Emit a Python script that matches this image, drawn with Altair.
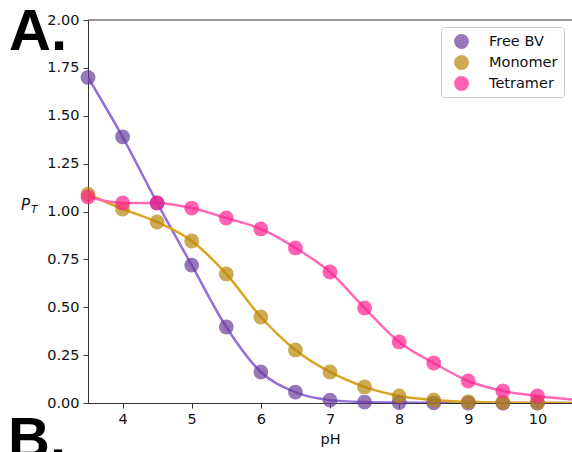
import altair as alt
import pandas as pd

ph = [3.5, 4.0, 4.5, 5.0, 5.5, 6.0, 6.5, 7.0, 7.5, 8.0, 8.5, 9.0, 9.5, 10.0]
free_bv = [1.70, 1.39, 1.045, 0.72, 0.397, 0.162, 0.057, 0.015, 0.005, 0.002, 0.001, 0.0, 0.0, 0.0]
monomer = [1.09, 1.013, 0.945, 0.846, 0.674, 0.449, 0.277, 0.162, 0.084, 0.037, 0.016, 0.006, 0.002, 0.001]
tetramer = [1.076, 1.045, 1.045, 1.018, 0.966, 0.909, 0.81, 0.684, 0.496, 0.319, 0.209, 0.115, 0.063, 0.037]

# curve end values at pH 10.5
curve_end_ph = 10.5
curve_end = {"Free BV": 0.0, "Monomer": 0.0, "Tetramer": 0.018}

series = ["Free BV", "Monomer", "Tetramer"]
point_colors = ["#6a3d9a", "#b8860b", "#ff1f8e"]
line_colors = ["#9370db", "#daa520", "#ff69b4"]

rows = []
for name, vals in zip(series, [free_bv, monomer, tetramer]):
    for x, y in zip(ph, vals):
        rows.append({"pH": x, "PT": y, "series": name})
pts = pd.DataFrame(rows)

lrows = list(rows)
for name in series:
    lrows.append({"pH": curve_end_ph, "PT": curve_end[name], "series": name})
lines_df = pd.DataFrame(lrows)

FS = 14.5
xscale = alt.Scale(domain=[3.5, 10.5], nice=False, zero=False)
yscale = alt.Scale(domain=[0, 2.0], nice=False)

xaxis = alt.Axis(values=[4, 5, 6, 7, 8, 9, 10], format="d", title="pH", grid=False,
                 labelFontSize=FS, titleFontSize=FS, titleFontWeight="normal",
                 tickSize=5, labelPadding=4, titlePadding=7, domainColor="#333", tickColor="#333",
                 labelColor="#111", titleColor="#111", labelFont="DejaVu Sans", titleFont="DejaVu Sans")
yaxis = alt.Axis(values=[0, 0.25, 0.5, 0.75, 1.0, 1.25, 1.5, 1.75, 2.0], format=".2f", title=None, grid=False,
                 labelFontSize=FS, tickSize=5, labelPadding=4, domainColor="#333", tickColor="#333",
                 labelColor="#111", labelFont="DejaVu Sans")

lines = alt.Chart(lines_df).mark_line(interpolate="monotone", strokeWidth=2.5, clip=True).encode(
    x=alt.X("pH:Q", scale=xscale, axis=xaxis),
    y=alt.Y("PT:Q", scale=yscale, axis=yaxis),
    stroke=alt.Stroke("series:N", scale=alt.Scale(domain=series, range=line_colors), legend=None),
    order=alt.Order("pH:Q"),
)

points = alt.Chart(pts).mark_point(filled=True, size=220, opacity=0.7, shape="circle").encode(
    x=alt.X("pH:Q", scale=xscale),
    y=alt.Y("PT:Q", scale=yscale),
    color=alt.Color("series:N", scale=alt.Scale(domain=series, range=point_colors),
                    legend=alt.Legend(title=None, orient="none", legendX=353, legendY=7,
                                      symbolSize=220, symbolOpacity=0.7, symbolType="circle",
                                      labelFontSize=FS, labelFont="DejaVu Sans", labelColor="#111",
                                      strokeColor="#cccccc", fillColor="white", cornerRadius=3,
                                      padding=6, rowPadding=5, labelOffset=19, symbolOffset=6)),
)

top_rule = alt.Chart(pd.DataFrame({"y": [2.0]})).mark_rule(color="#333", strokeWidth=1).encode(
    y=alt.Y("y:Q", scale=yscale), x=alt.value(0), x2=alt.value(484)
)

labels = pd.DataFrame({"t": ["A."]})
lab_a = alt.Chart(labels).mark_text(text="A.", font="Liberation Sans", fontWeight="bold", fontSize=58,
                                     align="left", baseline="alphabetic", color="black").encode(
    x=alt.value(-79), y=alt.value(30))
lab_b = alt.Chart(labels).mark_text(text="B.", font="Liberation Sans", fontWeight="bold", fontSize=58,
                                     align="left", baseline="alphabetic", color="black").encode(
    x=alt.value(-80), y=alt.value(438))
lab_p = alt.Chart(labels).mark_text(text="P", font="DejaVu Sans", fontStyle="italic", fontSize=15,
                                     align="left", baseline="alphabetic", color="#111").encode(
    x=alt.value(-67), y=alt.value(190))
lab_t = alt.Chart(labels).mark_text(text="T", font="DejaVu Sans", fontStyle="italic", fontSize=10.5,
                                     align="left", baseline="alphabetic", color="#111").encode(
    x=alt.value(-57), y=alt.value(193))

chart = alt.layer(top_rule, lines, points, lab_a, lab_b, lab_p, lab_t).resolve_scale(
    color="independent", stroke="independent"
).properties(
    width=484, height=383,
    padding={"left": 88, "top": 20, "right": 0, "bottom": 49},
    autosize=alt.AutoSizeParams(type="none"),
    background="white",
).configure_view(stroke=None)

chart.save("out.html", embed_options={"renderer": "svg", "actions": False})
